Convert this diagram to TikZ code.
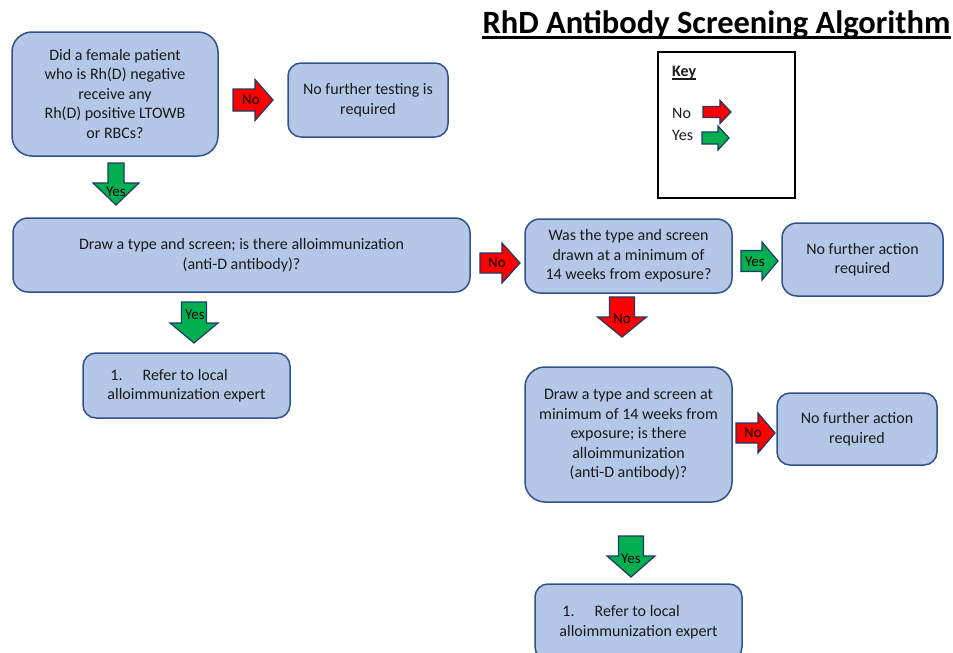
\documentclass[tikz,border=0pt]{standalone}
\usepackage{fontspec}
\setmainfont{Carlito}
\definecolor{boxfill}{HTML}{B4C7E7}
\definecolor{boxline}{HTML}{2F528F}
\definecolor{arrline}{HTML}{1F3864}
\definecolor{yesgreen}{HTML}{00B050}
\definecolor{nored}{HTML}{FF0000}
\definecolor{txt}{HTML}{1A1A1A}
\tikzset{
  box/.style={draw=boxline, fill=boxfill, line width=1.5pt, rounded corners=13pt,
    align=center, inner sep=0pt, text=txt, font=\fontsize{16}{19.5}\selectfont},
  lbl/.style={inner sep=0pt, text=black, font=\fontsize{15}{17}\selectfont},
  keytxt/.style={anchor=base west, inner sep=0pt, text=txt, font=\fontsize{16}{19}\selectfont},
  arrowline/.style={draw=arrline, line width=1.2pt, line join=miter},
  % block arrow pointing along x: length, head length, half shaft, half head, colour
  pics/blockarr/.style n args={5}{code={
    \filldraw[arrowline, fill=#5] (0,-#3) -- ({#1-#2},-#3) -- ({#1-#2},-#4) -- (#1,0)
      -- ({#1-#2},#4) -- ({#1-#2},#3) -- (0,#3) -- cycle;}}
}
\begin{document}
\begin{tikzpicture}[x=1pt,y=-1pt]
\useasboundingbox (0,0) rectangle (953,653);

% title and key
\node[anchor=base, inner sep=0pt, text=black, font=\fontsize{32.5}{36}\selectfont\bfseries] (title) at (716.5,33)
  {RhD Antibody Screening Algorithm};
\draw[line width=2.2pt] ([yshift=-4.5pt]title.base west) -- ([yshift=-4.5pt]title.base east);
\node[draw=black, line width=2.5pt, minimum width=137, minimum height=146, inner sep=0pt] (keybox) at (726.5,125) {};
\node[keytxt, font=\fontsize{16}{19}\selectfont\bfseries] (keytitle) at (672,76) {Key};
\draw[line width=1.2pt, txt] ([yshift=-3pt]keytitle.base west) -- ([yshift=-3pt]keytitle.base east);
\node[keytxt] (keyno) at (672,118) {No};
\node[keytxt] (keyyes) at (672,140) {Yes};
\pic (keyred) at (703,112) {blockarr={28}{11}{5.5}{11.5}{nored}};
\pic (keygreen) at (702,138) {blockarr={27}{11}{6}{12}{yesgreen}};

% boxes
\node[box, minimum width=206, minimum height=124, rounded corners=20pt] (q1) at (115,94)
  {Did a female patient\\who is Rh(D) negative\\receive any\\Rh(D) positive LTOWB\\or RBCs?};
\node[box, minimum width=160, minimum height=74] (stop1) at (368,100) {No further testing is\\required};
\node[box, minimum width=457, minimum height=74, rounded corners=15pt] (q2) at (241.5,255)
  {Draw a type and screen; is there alloimmunization\\(anti-D antibody)?};
\node[box, minimum width=207, minimum height=74, rounded corners=15pt] (q3) at (628.5,256)
  {Was the type and screen\\drawn at a minimum of\\14 weeks from exposure?};
\node[box, minimum width=161, minimum height=73, rounded corners=15pt] (stop2) at (862.5,259.5) {No further action\\required};
\node[box, minimum width=207, minimum height=65, align=left] (ref1) at (186.5,385.5)
  {\hspace{3pt}1.\hspace{20pt}Refer to local\\alloimmunization expert};
\node[box, minimum width=207, minimum height=135, rounded corners=20pt] (q4) at (628.5,434.5)
  {Draw a type and screen at\\minimum of 14 weeks from\\exposure; is there\\alloimmunization\\(anti-D antibody)?};
\node[box, minimum width=160, minimum height=72] (stop3) at (857,429) {No further action\\required};
\node[box, minimum width=207, minimum height=76, align=left] (ref2) at (638.5,622)
  {\hspace{3pt}1.\hspace{20pt}Refer to local\\alloimmunization expert};

% block arrows
\pic (a1) at (233,100) {blockarr={40}{18}{11}{20.5}{nored}};
\pic[rotate=-90] (a2) at (116,163) {blockarr={42}{22}{8}{23}{yesgreen}};
\pic[rotate=-90] (a3) at (194,302) {blockarr={41}{20}{12.5}{24}{yesgreen}};
\pic (a4) at (480,263) {blockarr={40}{18}{10}{20}{nored}};
\pic (a5) at (741,261) {blockarr={37}{16}{10.5}{19}{yesgreen}};
\pic[rotate=-90] (a6) at (622,297) {blockarr={40}{20}{12.5}{24.5}{nored}};
\pic (a7) at (736,433) {blockarr={39}{17}{10}{20}{nored}};
\pic[rotate=-90] (a8) at (631,536) {blockarr={41}{21}{12.5}{24}{yesgreen}};

% arrow labels
\node[lbl] (l1) at (251,100) {No};
\node[lbl] (l2) at (116,192) {Yes};
\node[lbl] (l3) at (195,315) {Yes};
\node[lbl] (l4) at (497,263) {No};
\node[lbl] (l5) at (755,262) {Yes};
\node[lbl] (l6) at (622,319) {No};
\node[lbl] (l7) at (753,433) {No};
\node[lbl] (l8) at (631,559) {Yes};
\end{tikzpicture}
\end{document}
